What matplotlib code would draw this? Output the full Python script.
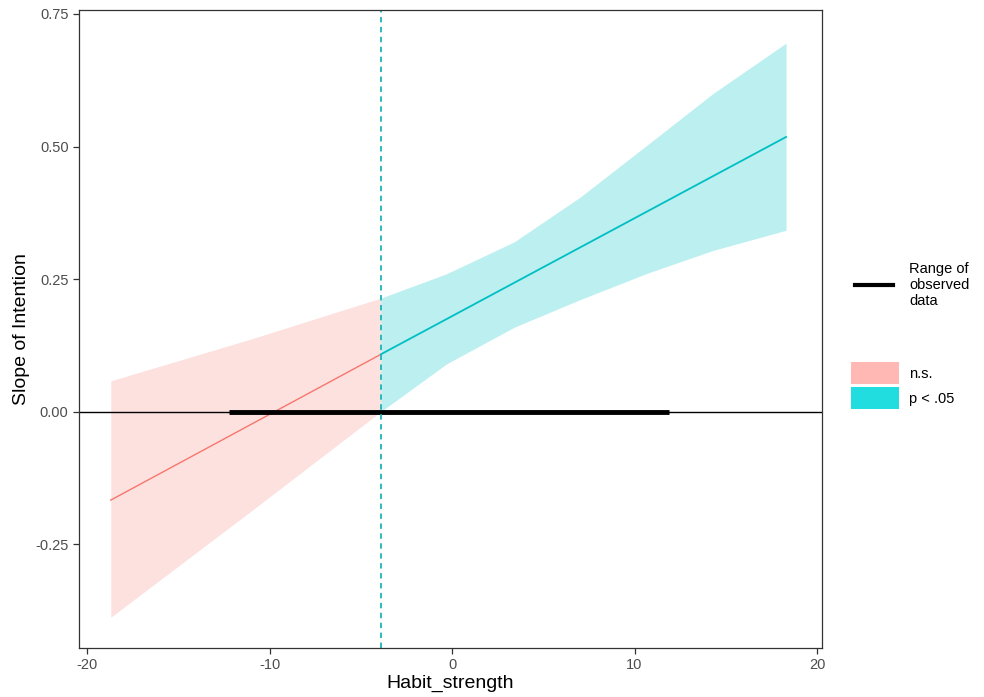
import matplotlib
matplotlib.use("Agg")
import matplotlib.pyplot as plt
from matplotlib.lines import Line2D
from matplotlib.patches import Rectangle
import numpy as np

plt.rcParams['font.family'] = ['Liberation Sans', 'DejaVu Sans']
plt.rcParams['axes.unicode_minus'] = False

# Estimated slope line (x, slope)
line_x = [-18.7, -3.9, 18.3]
line_y = [-0.167, 0.108, 0.518]

# Confidence band edges
band_x = [-18.7, -11.1, -3.9, -0.3, 3.4, 7.0, 10.7, 14.3, 18.3]
band_upper = [0.058, 0.136, 0.214, 0.260, 0.320, 0.404, 0.503, 0.600, 0.695]
band_lower = [-0.388, -0.190, 0.0, 0.090, 0.159, 0.211, 0.261, 0.304, 0.342]

jn_point = -3.9           # Johnson-Neyman boundary
observed_range = [-12.2, 11.9]

x_ticks = [-20, -10, 0, 10, 20]
y_ticks = [-0.25, 0.00, 0.25, 0.50, 0.75]
y_ticklabels = ["-0.25", "0.00", "0.25", "0.50", "0.75"]

red = "#F8766D"
cyan = "#00BFC4"

fig = plt.figure(figsize=(9.84, 6.97), dpi=100)
ax = fig.add_axes([79/984, 1-648/697, (822-79)/984, (648-10)/697])

bx = np.array(band_x)
bu = np.array(band_upper)
bl = np.array(band_lower)
# split bands at the JN point
ns = bx <= jn_point
sig = bx >= jn_point
ax.fill_between(bx[ns], bl[ns], bu[ns], color="#FDE1DF", linewidth=0)
ax.fill_between(bx[sig], bl[sig], bu[sig], color="#BBEFF0", linewidth=0)

lx = np.array(line_x)
ly = np.array(line_y)
ax.plot(lx[:2], ly[:2], color=red, lw=1.0)
ax.plot(lx[1:], ly[1:], color=cyan, lw=1.3)

ax.axhline(0, color="black", lw=1.0)
ax.plot(observed_range, [0, 0], color="black", lw=3.5, solid_capstyle="butt")
ax.axvline(jn_point, color="#1BB5BA", lw=1.3, linestyle=(0, (3, 2.5)))

ax.set_xlim(-20.44, 20.27)
ax.set_ylim(-0.446, 0.7575)
ax.set_xticks(x_ticks)
ax.set_yticks(y_ticks)
ax.set_yticklabels(y_ticklabels)
ax.tick_params(axis="both", labelsize=10.5, labelcolor="#4D4D4D", color="#333333",
               length=4, width=0.9)
for s in ax.spines.values():
    s.set_color("#333333")
    s.set_linewidth(0.9)

ax.set_xlabel("Habit_strength", fontsize=14, labelpad=2)
ax.set_ylabel("Slope of Intention", fontsize=14, labelpad=4)

# legend (manual)
W, H = 984, 697
fig.add_artist(Line2D([855/W, 893/W], [1-285/H, 1-285/H], color="black", lw=3))
fig.text(909/W, 1-285/H, "Range of\nobserved\ndata", fontsize=10.5, va="center",
         ha="left", linespacing=1.15)
fig.add_artist(Rectangle((851/W, 1-384/H), 48/W, 22/H, color="#FFB8B3",
                         transform=fig.transFigure, lw=0))
fig.add_artist(Rectangle((851/W, 1-409/H), 48/W, 22/H, color="#22DDE0",
                         transform=fig.transFigure, lw=0))
fig.text(909/W, 1-374/H, "n.s.", fontsize=10.5, va="center", ha="left")
fig.text(909/W, 1-399/H, "p < .05", fontsize=10.5, va="center", ha="left")

fig.savefig("out.png", dpi=100)
